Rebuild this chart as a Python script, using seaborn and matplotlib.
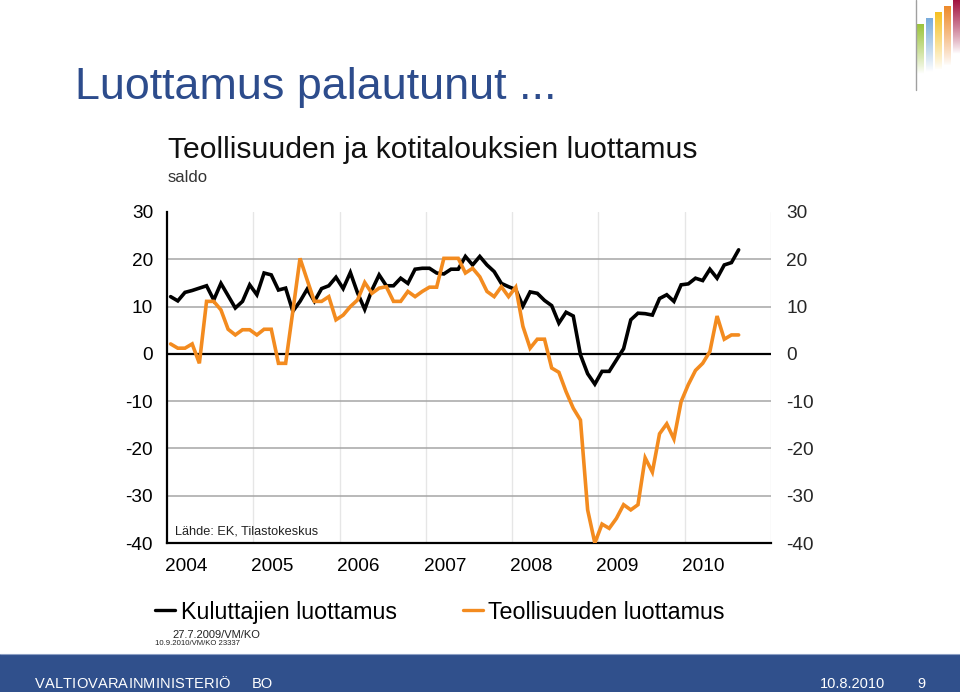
import numpy as np
import pandas as pd
import matplotlib
matplotlib.use("Agg")
import matplotlib.pyplot as plt
import seaborn as sns
from matplotlib import font_manager
from matplotlib.lines import Line2D
from matplotlib.patches import Rectangle

# ---------------- data ----------------
years = [2004, 2005, 2006, 2007, 2008, 2009, 2010]
year_labels = ["2004", "2005", "2006", "2007", "2008", "2009", "2010"]
yticks = [30, 20, 10, 0, -10, -20, -30, -40]

# Monthly balances, Jan 2004 - Aug 2010
consumer = [12.1, 11.2, 13.0, 13.4, 13.9, 14.4, 11.4, 14.9, 12.3, 9.7, 11.1, 14.6,
            12.5, 17.1, 16.7, 13.5, 13.9, 9.0, 11.1, 13.7, 11.1, 13.8, 14.4, 16.2,
            13.8, 17.2, 12.9, 9.4, 13.5, 16.7, 14.4, 14.4, 16.0, 14.9, 17.9, 18.1,
            18.1, 17.1, 16.9, 17.9, 17.9, 20.6, 18.8, 20.6, 18.8, 17.4, 14.9, 14.2,
            13.6, 10.1, 13.1, 12.8, 11.3, 10.2, 6.5, 8.8, 8.0, -0.2, -4.2, -6.4,
            -3.7, -3.7, -1.3, 1.1, 7.2, 8.6, 8.5, 8.2, 11.7, 12.5, 11.1, 14.6,
            14.8, 16.0, 15.5, 17.9, 16.0, 18.8, 19.3, 22.0]
industry = [2.1, 1.2, 1.2, 2.1, -2.0, 11.1, 11.1, 9.3, 5.2, 4.0, 5.1, 5.1,
            4.0, 5.2, 5.2, -2.0, -2.0, 9.0, 20.2, 15.6, 11.1, 11.1, 12.1, 7.2,
            8.2, 10.0, 11.4, 15.1, 12.8, 13.9, 14.2, 11.1, 11.1, 13.2, 12.1, 13.2,
            14.1, 14.1, 20.2, 20.2, 20.2, 17.1, 18.1, 16.3, 13.2, 12.1, 14.2, 12.1,
            14.1, 5.8, 1.2, 3.1, 3.1, -3.0, -3.9, -8.0, -11.5, -14.0, -33.0, -40.0,
            -36.0, -36.9, -34.8, -31.9, -33.0, -31.9, -22.0, -25.0, -16.9, -14.8, -18.0, -10.1,
            -6.5, -3.5, -2.0, 0.5, 8.0, 3.1, 4.0, 4.0]
series_names = ["Kuluttajien luottamus", "Teollisuuden luottamus"]
series_colors = ["#000000", "#F38B1F"]

# ---------------- style / fonts ----------------
sns.set_style("white")
available = {f.name for f in font_manager.fontManager.ttflist}
SANS = "Liberation Sans" if "Liberation Sans" in available else "DejaVu Sans"
NARROW = "Liberation Sans Narrow" if "Liberation Sans Narrow" in available else SANS
plt.rcParams["font.family"] = [SANS, "DejaVu Sans"]

W, H = 960, 692
fig = plt.figure(figsize=(W / 100, H / 100), dpi=100)
fig.patch.set_facecolor("white")


def fx(px):
    return px / W


def fy(py):
    return 1 - py / H


renderer = fig.canvas.get_renderer()


def fit(t, target_w):
    bb = t.get_window_extent(renderer)
    t.set_fontsize(t.get_fontsize() * target_w / bb.width)
    return t


# ---------------- main axes ----------------
L, R, T, B = 167, 771, 212, 543
ax = fig.add_axes([fx(L), fy(B), fx(R) - fx(L), fy(T) - fy(B)])

n = len(consumer)
xpos = 2004 + (np.arange(n) + 0.5) / 12.0
df = pd.DataFrame({
    "x": np.concatenate([xpos, xpos]),
    "value": consumer + industry,
    "series": [series_names[0]] * n + [series_names[1]] * n,
})

ax.set_xlim(2004, 2011)
ax.set_ylim(-40, 30)

# grid
for yv in yticks:
    if yv in (0, -40, 30):
        continue
    ax.axhline(yv, color="#A6A6A6", lw=1.1, zorder=1)
for yr in years[1:] + [2011]:
    ax.axvline(yr, color="#E6E6E6", lw=1.0, zorder=0.5)
ax.axhline(0, color="black", lw=1.6, zorder=2)

sns.lineplot(data=df, x="x", y="value", hue="series",
             palette=dict(zip(series_names, series_colors)),
             linewidth=2.6, legend=False, ax=ax, zorder=3)
for ln in ax.lines:
    ln.set_solid_joinstyle("miter")
    ln.set_clip_on(True)

for s in ["top", "right"]:
    ax.spines[s].set_visible(False)
ax.spines["left"].set_color("black")
ax.spines["left"].set_linewidth(1.6)
ax.spines["bottom"].set_color("black")
ax.spines["bottom"].set_linewidth(1.6)

ax.set_yticks(yticks)
ax.set_yticklabels([str(v) for v in yticks])
ax.set_xticks([yr + 0.22 for yr in years])
ax.set_xticklabels(year_labels)
ax.tick_params(axis="both", length=0, labelsize=13.7, colors="black")
ax.tick_params(axis="y", pad=10)
ax.tick_params(axis="x", pad=11)
ax.set_xlabel("")
ax.set_ylabel("")

ax2 = ax.twinx()
ax2.set_ylim(-40, 30)
ax2.set_yticks(yticks)
ax2.set_yticklabels([str(v) for v in yticks])
ax2.tick_params(axis="y", length=0, labelsize=13.7, pad=11)
for s in ax2.spines.values():
    s.set_visible(False)

# source note inside plot
fig.text(fx(175), fy(534), "Lähde: EK, Tilastokeskus", fontsize=9.2,
         color="#222222", va="baseline", ha="left")

# ---------------- titles ----------------
t_main = fig.text(fx(75), fy(99), "Luottamus palautunut ...", color="#2D4C8C",
                  fontsize=40, family=[NARROW, "DejaVu Sans"], va="baseline", ha="left")
fit(t_main, 482)

t_chart = fig.text(fx(168), fy(158), "Teollisuuden ja kotitalouksien luottamus",
                   fontsize=17, color="#111111", va="baseline", ha="left")
fit(t_chart, 532)
fig.text(fx(168), fy(182), "saldo", fontsize=12, color="#333333",
         va="baseline", ha="left")

# ---------------- legend ----------------
leg_y = 610
fig.add_artist(Line2D([fx(155), fx(175)], [fy(leg_y), fy(leg_y)],
                      color=series_colors[0], lw=2.4, transform=fig.transFigure))
t1 = fig.text(fx(181), fy(619), series_names[0], fontsize=17, color="black",
              va="baseline", ha="left")
fit(t1, 216)
fig.add_artist(Line2D([fx(463), fx(483)], [fy(leg_y), fy(leg_y)],
                      color=series_colors[1], lw=2.4, transform=fig.transFigure))
t2 = fig.text(fx(488), fy(619), series_names[1], fontsize=17, color="black",
              va="baseline", ha="left")
fit(t2, 237)

fig.text(fx(172), fy(638), "27.7.2009/VM/KO", fontsize=8, color="#222222",
         va="baseline", ha="left")
fig.text(fx(155), fy(645), "10.9.2010/VM/KO 23337", fontsize=5.6, color="#222222",
         va="baseline", ha="left")

# ---------------- footer ----------------
fig.add_artist(Rectangle((0, 0), 1, 38 / H, transform=fig.transFigure,
                         facecolor="#30508C", edgecolor="none"))
fig.add_artist(Line2D([0, 1], [38 / H, 38 / H], color="#8C9FC4", lw=0.8,
                      transform=fig.transFigure))

word = "VALTIOVARAINMINISTERIÖ"
chars = []
widths = []
for ch in word:
    t = fig.text(0, fy(688), ch, fontsize=10.5, color="white",
                 family=[NARROW, "DejaVu Sans"], va="baseline", ha="left")
    chars.append(t)
    widths.append(t.get_window_extent(renderer).width)
total_target = 230 - 35
track = (total_target - sum(widths)) / (len(word) - 1)
xp = 35.0
for t, w in zip(chars, widths):
    t.set_x(fx(xp))
    xp += w + track

fig.text(fx(252), fy(688), "BO", fontsize=10.5, color="white",
         family=[NARROW, "DejaVu Sans"], va="baseline", ha="left")
fig.text(fx(820), fy(688), "10.8.2010", fontsize=10.5, color="white",
         family=[NARROW, "DejaVu Sans"], va="baseline", ha="left")
fig.text(fx(917), fy(688), "9", fontsize=10.5, color="white",
         family=[NARROW, "DejaVu Sans"], va="baseline", ha="left")

# ---------------- logo ----------------
lax = fig.add_axes([fx(900), fy(95), fx(960) - fx(900), fy(0) - fy(95)])
lax.set_xlim(900, 960)
lax.set_ylim(95, 0)
lax.axis("off")
lax.plot([915.5, 915.5], [0, 90], color="#A0A0A0", lw=1.0)
bars = [(917, 924, 24, 74, "#9CC43B"), (926, 933, 18, 72, "#79ACDC"),
        (935, 942, 12, 70, "#F6C022"), (944, 951, 6, 66, "#EE8A2A"),
        (953, 960, 0, 54, "#A3113F")]
for x0, x1, top, bot, col in bars:
    rgb = matplotlib.colors.to_rgb(col)
    grad = np.zeros((64, 1, 4))
    grad[..., 0], grad[..., 1], grad[..., 2] = rgb
    grad[:, 0, 3] = np.linspace(1, 0, 64) ** 0.9
    lax.imshow(grad, extent=(x0, x1, bot, top), aspect="auto", interpolation="bilinear")
lax.set_xlim(900, 960)
lax.set_ylim(95, 0)

fig.savefig("out.png", dpi=100)
